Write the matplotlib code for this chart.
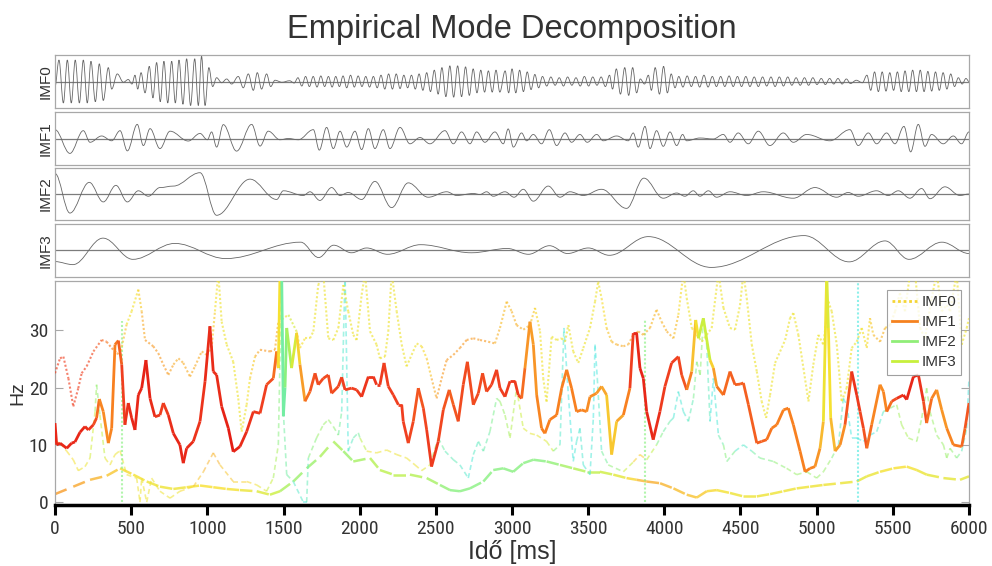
import numpy as np
import matplotlib
matplotlib.use("Agg")
import matplotlib.pyplot as plt
from matplotlib import font_manager
from matplotlib.collections import LineCollection
from matplotlib.colors import LinearSegmentedColormap
from matplotlib.lines import Line2D
from matplotlib.patches import PathPatch
from matplotlib.path import Path

# --- IMF signals: extrema (time ms, value as fraction of half panel height) ---
IMF0_EXTREMA = [
    (0, -0.2), (26, 0.85), (55, -0.85), (81, 0.85), (107, -0.85), (133, 0.85), (160, -0.85),
    (186, 0.85), (212, -0.85), (236, 0.8), (265, -0.8), (291, 0.7), (317, -0.75), (350, 0.55),
    (372, -0.3), (409, 0.3), (449, -0.03), (481, 0.08), (505, -0.1), (525, 0.25), (543, -0.3),
    (565, 0.35), (591, -0.45), (619, 0.6), (643, -0.65), (667, 0.75), (691, -0.8), (715, 0.8),
    (740, -0.85), (766, 0.8), (790, -0.85), (814, 0.85), (840, -0.9), (864, 0.9), (890, -0.95),
    (917, 0.9), (941, -0.95), (962, 1.0), (985, -0.95), (1010, 0.55), (1035, -0.2), (1061, 0.15),
    (1094, -0.05), (1127, 0.1), (1160, -0.1), (1203, 0.2), (1236, -0.25), (1269, 0.3), (1302, -0.35),
    (1328, 0.35), (1356, -0.3), (1389, 0.3), (1416, -0.2), (1444, 0.05), (1490, -0.03), (1540, 0.03),
    (1570, -0.06), (1595, 0.15), (1620, -0.18), (1645, 0.2), (1670, -0.2), (1695, 0.2), (1720, -0.22),
    (1745, 0.22), (1770, -0.2), (1795, 0.2), (1819, -0.22), (1843, 0.2), (1867, -0.2), (1891, 0.22),
    (1915, -0.25), (1940, 0.25), (1965, -0.22), (1990, 0.22), (2015, -0.2), (2040, 0.2), (2065, -0.22),
    (2090, 0.2), (2115, -0.25), (2140, 0.25), (2165, -0.3), (2190, 0.3), (2215, -0.3), (2240, 0.3),
    (2265, -0.28), (2290, 0.25), (2315, -0.25), (2340, 0.25), (2365, -0.3), (2390, 0.3), (2415, -0.35),
    (2440, 0.35), (2465, -0.4), (2490, 0.45), (2515, -0.5), (2540, 0.55), (2566, -0.6), (2592, 0.62),
    (2617, -0.62), (2643, 0.62), (2669, -0.6), (2695, 0.58), (2720, -0.55), (2745, 0.5), (2770, -0.45),
    (2795, 0.45), (2820, -0.42), (2845, 0.42), (2870, -0.42), (2895, 0.45), (2920, -0.42), (2955, 0.42),
    (2978, -0.45), (3000, 0.5), (3025, -0.45), (3050, 0.45), (3075, -0.4), (3100, 0.38), (3125, -0.32),
    (3150, 0.28), (3175, -0.25), (3200, 0.2), (3228, -0.18), (3255, 0.18), (3283, -0.15), (3310, 0.15),
    (3338, -0.18), (3365, 0.18), (3393, -0.15), (3420, 0.15), (3448, -0.18), (3475, 0.2), (3503, -0.18),
    (3530, 0.18), (3558, -0.15), (3585, 0.18), (3613, -0.2), (3640, 0.25), (3660, -0.3), (3685, 0.5),
    (3712, -0.5), (3740, 0.55), (3766, -0.55), (3792, 0.55), (3818, -0.45), (3842, 0.1), (3870, -0.1),
    (3895, 0.25), (3915, -0.35), (3940, 0.55), (3968, -0.5), (3995, 0.6), (4020, -0.45), (4045, 0.3),
    (4070, -0.25), (4095, 0.2), (4122, -0.22), (4150, 0.22), (4177, -0.2), (4205, 0.2), (4232, -0.22),
    (4260, 0.25), (4287, -0.22), (4315, 0.2), (4342, -0.2), (4370, 0.2), (4397, -0.2), (4425, 0.22),
    (4452, -0.2), (4480, 0.2), (4507, -0.2), (4535, 0.2), (4562, -0.2), (4590, 0.18), (4617, -0.2),
    (4645, 0.18), (4672, -0.18), (4700, 0.18), (4727, -0.2), (4755, 0.18), (4782, -0.18), (4810, 0.18),
    (4837, -0.15), (4865, 0.15), (4892, -0.15), (4920, 0.15), (4947, -0.15), (4975, 0.15), (5002, -0.12),
    (5030, 0.12), (5057, -0.12), (5085, 0.12), (5112, -0.1), (5140, 0.12), (5167, -0.1), (5195, 0.1),
    (5222, -0.08), (5260, 0.05), (5300, -0.05), (5330, 0.25), (5355, -0.35), (5380, 0.38), (5405, -0.4),
    (5430, 0.38), (5455, -0.38), (5480, 0.35), (5505, -0.35), (5530, 0.38), (5555, -0.4), (5580, 0.42),
    (5605, -0.4), (5630, 0.45), (5655, -0.4), (5680, 0.45), (5705, -0.4), (5730, 0.4), (5755, -0.38),
    (5780, 0.38), (5805, -0.35), (5830, 0.35), (5855, -0.3), (5880, 0.3), (5905, -0.2), (5930, 0.15),
    (5955, -0.1), (5980, 0.12), (6000, 0.0),
]
IMF1_EXTREMA = [
    (0, 0.35), (98, -0.59), (186, 0.31), (230, -0.15), (306, 0.1), (372, -0.09), (427, 0.31),
    (475, -0.49), (540, 0.56), (580, -0.28), (624, 0.39), (689, -0.4), (755, 0.29), (875, -0.1),
    (952, 0.2), (1000, -0.05), (1028, 0.26), (1061, -0.34), (1105, 0.55), (1192, -0.5), (1291, 0.56),
    (1346, -0.3), (1400, 0.29), (1477, -0.05), (1532, 0.0), (1597, -0.05), (1696, 0.35), (1735, -0.46),
    (1783, 0.44), (1827, -0.4), (1871, 0.29), (1915, -0.34), (1969, 0.29), (2013, -0.44), (2057, 0.39),
    (2100, -0.4), (2155, 0.35), (2199, -0.4), (2265, 0.44), (2330, -0.21), (2396, 0.04), (2461, -0.21),
    (2560, 0.31), (2615, -0.21), (2669, 0.26), (2724, -0.21), (2768, 0.26), (2822, -0.15), (2888, 0.26),
    (2943, -0.21), (2975, 0.38), (3009, -0.34), (3063, 0.22), (3096, -0.09), (3140, 0.16), (3194, -0.21),
    (3245, 0.35), (3293, -0.28), (3348, 0.22), (3391, -0.15), (3446, 0.16), (3494, -0.15), (3556, 0.16),
    (3599, -0.09), (3687, 0.1), (3763, -0.09), (3796, 0.22), (3829, -0.34), (3873, 0.48), (3906, -0.4),
    (3949, 0.31), (3993, -0.31), (4037, 0.26), (4081, -0.28), (4120, 0.16), (4146, -0.09), (4234, 0.02),
    (4321, -0.02), (4387, 0.16), (4431, -0.15), (4485, 0.22), (4551, -0.21), (4617, 0.29), (4693, -0.28),
    (4781, 0.22), (4847, -0.15), (4934, 0.16), (5087, -0.09), (5218, 0.35), (5273, -0.28), (5339, 0.22),
    (5394, -0.21), (5459, 0.22), (5514, -0.21), (5573, 0.48), (5617, -0.53), (5667, 0.56), (5711, -0.31),
    (5754, 0.16), (5831, -0.21), (5897, 0.1), (5951, -0.21), (6000, 0.26),
]
IMF2_EXTREMA = [
    (0, 0.83), (98, -0.77), (225, 0.47), (317, -0.32), (400, 0.35), (475, -0.32), (547, 0.13),
    (613, -0.09), (689, 0.26), (777, 0.32), (952, 0.86), (1061, -0.86), (1280, 0.6), (1455, -0.22),
    (1499, 0.13), (1630, -0.06), (1674, 0.09), (1739, -0.26), (1816, 0.26), (1871, -0.06), (1925, 0.06),
    (2013, -0.22), (2100, 0.51), (2210, -0.55), (2319, 0.45), (2450, -0.13), (2571, 0.09), (2637, -0.06),
    (2746, 0.02), (2790, -0.02), (2833, 0.09), (2877, -0.09), (2954, 0.09), (3014, -0.13), (3074, 0.19),
    (3140, -0.29), (3238, 0.32), (3315, -0.13), (3380, 0.09), (3468, -0.06), (3588, 0.19), (3752, -0.58),
    (3866, 0.64), (3993, -0.17), (4081, 0.04), (4135, -0.09), (4190, 0.13), (4234, -0.09), (4289, 0.13),
    (4343, -0.13), (4431, 0.09), (4540, -0.06), (4649, 0.09), (4846, -0.17), (4989, 0.26), (5131, -0.13),
    (5207, 0.06), (5273, -0.09), (5393, 0.13), (5470, -0.06), (5536, 0.13), (5612, -0.17), (5689, 0.22),
    (5744, -0.19), (5842, 0.29), (5940, -0.06), (6000, 0.0),
]
IMF3_EXTREMA = [
    (0, -0.44), (118, -0.56), (315, 0.49), (511, -0.35), (787, 0.28), (1121, -0.32), (1613, 0.33),
    (1731, -0.28), (1829, 0.21), (1947, -0.09), (2046, 0.1), (2183, -0.15), (2400, 0.23), (2734, -0.09),
    (2970, 0.08), (3108, -0.15), (3246, 0.19), (3364, -0.12), (3501, 0.1), (3639, -0.19), (3895, 0.55),
    (4308, -0.67), (4918, 0.59), (5213, -0.45), (5449, 0.38), (5606, -0.35), (5822, 0.33), (6000, -0.12),
]
IMF_LABELS = ["IMF0", "IMF1", "IMF2", "IMF3"]

# --- instantaneous frequency: (time ms, Hz, amplitude colour level 0..1) ---
IF0_POINTS = [
    (0, 22.5, .9), (33, 25.1, .9), (55, 25.4, .9), (88, 21.6, .9), (120, 16.7, .9), (153, 19.9, .9),
    (175, 22.5, .9), (208, 23.7, .9), (252, 26.3, .88), (306, 28.3, .85), (339, 28.0, .82),
    (372, 26.9, .8), (405, 26.0, .78), (427, 25.7, .75), (470, 31.0, .62), (503, 33.3, .6),
    (547, 37.1, .62), (569, 33.3, .7), (591, 28.3, .75), (645, 27.2, .75), (678, 26.0, .75),
    (711, 24.0, .75), (744, 22.2, .75), (777, 24.0, .72), (810, 25.1, .72), (842, 24.3, .72),
    (886, 21.9, .72), (919, 23.7, .72), (963, 26.3, .72), (996, 25.7, .72), (1028, 26.9, .7),
    (1050, 33.3, .62), (1072, 40.0, .6), (1094, 31.5, .6), (1127, 27.5, .6), (1170, 24.5, .6),
    (1203, 18.1, .6), (1225, 12.3, .6), (1258, 17.0, .6), (1280, 21.6, .62), (1313, 25.4, .7),
    (1346, 26.6, .75), (1411, 26.3, .75), (1444, 26.6, .75), (1466, 31.5, .7), (1532, 32.7, .5),
    (1586, 29.8, .6), (1608, 26.9, .62), (1641, 28.6, .62), (1674, 28.6, .6), (1696, 29.8, .6),
    (1728, 37.9, .6), (1761, 40.0, .6), (1794, 28.6, .6), (1827, 28.3, .6), (1860, 30.4, .6),
    (1893, 37.9, .6), (1925, 33.3, .6), (1958, 29.2, .6), (1980, 28.3, .6), (2013, 36.2, .6),
    (2035, 40.0, .6), (2068, 29.8, .6), (2111, 27.5, .6), (2133, 25.1, .6), (2166, 25.4, .6),
    (2188, 29.8, .6), (2210, 40.0, .6), (2243, 33.3, .6), (2276, 27.5, .6), (2308, 23.7, .6),
    (2341, 25.7, .6), (2374, 27.7, .6), (2407, 27.2, .62), (2440, 25.1, .65), (2472, 21.6, .7),
    (2505, 18.1, .75), (2538, 21.6, .75), (2571, 24.8, .75), (2615, 25.7, .75), (2658, 26.9, .75),
    (2702, 28.3, .75), (2746, 28.6, .75), (2790, 28.3, .75), (2844, 28.0, .75), (2888, 27.7, .72),
    (2921, 30.4, .7), (2965, 35.0, .68), (2998, 33.3, .7), (3030, 30.9, .72), (3074, 30.1, .72),
    (3118, 30.9, .7), (3151, 33.9, .65), (3184, 29.8, .62), (3205, 21.6, .6), (3227, 17.5, .6),
    (3260, 28.9, .6), (3293, 28.3, .6), (3326, 28.6, .6), (3348, 28.0, .6), (3370, 30.9, .6),
    (3402, 26.3, .6), (3435, 24.3, .6), (3468, 26.9, .6), (3512, 30.4, .6), (3545, 35.0, .6),
    (3566, 38.5, .6), (3588, 35.6, .6), (3621, 30.4, .65), (3654, 28.0, .7), (3687, 27.5, .72),
    (3731, 27.2, .72), (3763, 27.5, .72), (3796, 29.2, .72), (3829, 29.8, .72), (3862, 29.2, .72),
    (3906, 30.4, .7), (3949, 33.6, .7), (3982, 31.5, .7), (4016, 29.8, .72), (4060, 28.6, .72),
    (4092, 32.7, .65), (4125, 40.0, .6), (4147, 35.6, .6), (4180, 30.4, .6), (4213, 29.2, .6),
    (4246, 28.0, .6), (4278, 29.2, .6), (4311, 30.4, .6), (4355, 40.0, .6), (4388, 33.9, .6),
    (4431, 30.4, .6), (4464, 30.1, .6), (4497, 34.4, .6), (4519, 40.0, .6), (4541, 35.6, .6),
    (4574, 27.5, .6), (4607, 22.8, .6), (4639, 17.6, .6), (4668, 14.7, .6), (4694, 18.7, .6),
    (4727, 24.3, .6), (4760, 26.3, .6), (4793, 28.3, .6), (4825, 32.1, .6), (4847, 33.0, .6),
    (4880, 29.2, .6), (4913, 23.4, .6), (4946, 17.6, .6), (4978, 24.0, .6), (5011, 29.2, .6),
    (5044, 27.5, .6), (5077, 35.0, .6), (5099, 33.3, .6), (5132, 27.5, .6), (5164, 17.6, .6),
    (5197, 19.9, .6), (5230, 26.9, .6), (5263, 28.0, .6), (5296, 30.4, .6), (5329, 26.9, .62),
    (5350, 32.1, .65), (5372, 29.2, .68), (5416, 28.0, .72), (5449, 30.4, .7), (5482, 30.9, .65),
    (5515, 33.3, .6), (5547, 36.5, .6), (5580, 33.3, .6), (5613, 40.0, .6), (5646, 40.0, .6),
    (5679, 30.4, .6), (5711, 28.6, .6), (5755, 35.6, .6), (5788, 40.0, .6), (5821, 33.3, .6),
    (5854, 34.4, .6), (5876, 33.3, .6), (5919, 40.0, .6), (5952, 27.5, .6), (5985, 30.4, .6),
    (6000, 32.1, .6),
]
IF1_POINTS = [
    (0, 13.8, .95), (11, 10.0, .95), (33, 10.3, .95), (77, 9.4, .95), (109, 10.3, .95), (131, 10.5, .95),
    (164, 12.2, .95), (197, 13.2, .95), (219, 12.6, .93), (252, 13.5, .9), (273, 14.7, .85),
    (291, 18.0, .8), (317, 15.8, .78), (350, 10.3, .78), (372, 12.9, .8), (394, 27.5, .8),
    (416, 28.2, .82), (438, 24.0, .88), (459, 13.5, .92), (481, 17.3, .93), (503, 14.7, .95),
    (525, 12.6, .95), (547, 18.7, .95), (569, 19.9, .95), (597, 24.8, .97), (624, 18.1, .95),
    (656, 14.9, .93), (689, 15.2, .9), (711, 17.3, .9), (744, 15.2, .92), (777, 12.0, .95),
    (820, 10.0, .95), (842, 6.8, .95), (864, 9.4, .95), (908, 10.6, .93), (952, 14.1, .92),
    (985, 21.1, .93), (1017, 30.7, .95), (1039, 22.8, .93), (1061, 22.2, .93), (1094, 16.7, .95),
    (1138, 12.9, .97), (1170, 8.8, .97), (1214, 9.7, .95), (1258, 12.3, .93), (1302, 15.8, .92),
    (1346, 15.5, .9), (1389, 20.5, .9), (1433, 21.6, .85), (1455, 26.3, .8), (1466, 23.4, .78),
    (1477, 40.0, .45), (1488, 40.0, .4), (1499, 15.0, .35), (1510, 20.0, .4), (1521, 30.4, .45),
    (1553, 23.4, .5), (1586, 29.5, .6), (1608, 24.0, .7), (1641, 17.6, .8), (1674, 19.3, .85),
    (1707, 22.5, .88), (1728, 20.5, .88), (1761, 21.6, .88), (1794, 22.2, .88), (1816, 19.0, .88),
    (1860, 20.2, .88), (1882, 21.8, .9), (1904, 19.6, .9), (1947, 19.9, .9), (1980, 19.6, .9),
    (2013, 18.4, .92), (2057, 21.9, .92), (2090, 21.9, .92), (2111, 20.5, .92), (2133, 20.5, .92),
    (2160, 24.3, .9), (2188, 20.2, .9), (2221, 18.7, .9), (2254, 17.0, .9), (2276, 17.0, .9),
    (2286, 14.1, .9), (2319, 10.3, .9), (2352, 14.1, .88), (2385, 19.9, .85), (2418, 16.4, .88),
    (2440, 12.6, .9), (2472, 6.2, .92), (2516, 10.6, .9), (2549, 16.1, .88), (2588, 19.6, .85),
    (2615, 17.0, .85), (2647, 14.1, .88), (2680, 20.5, .88), (2707, 24.5, .88), (2746, 17.0, .88),
    (2779, 19.0, .88), (2807, 22.5, .88), (2833, 19.3, .88), (2866, 20.5, .9), (2899, 23.1, .9),
    (2921, 19.9, .9), (2954, 18.4, .9), (2987, 21.1, .92), (3019, 21.1, .92), (3041, 18.7, .9),
    (3063, 18.1, .88), (3085, 23.4, .78), (3118, 31.5, .75), (3140, 27.5, .75), (3162, 18.7, .78),
    (3194, 12.9, .8), (3216, 12.0, .8), (3249, 14.4, .8), (3293, 15.2, .8), (3326, 19.9, .8),
    (3359, 23.1, .8), (3391, 19.9, .8), (3424, 15.8, .8), (3457, 16.1, .8), (3490, 15.8, .78),
    (3512, 18.4, .78), (3555, 19.0, .76), (3588, 20.2, .75), (3621, 18.7, .72), (3654, 8.3, .62),
    (3687, 14.1, .72), (3731, 15.2, .75), (3774, 19.9, .85), (3796, 29.5, .95), (3818, 29.5, .95),
    (3840, 23.4, .95), (3862, 21.6, .95), (3884, 15.8, .95), (3927, 10.9, .95), (3971, 15.8, .92),
    (4004, 20.2, .9), (4048, 24.3, .9), (4092, 25.4, .9), (4114, 22.2, .88), (4147, 19.6, .85),
    (4180, 22.8, .75), (4206, 31.8, .62), (4224, 28.6, .6), (4256, 32.1, .45), (4300, 24.8, .6),
    (4322, 23.4, .7), (4344, 20.2, .8), (4388, 18.7, .82), (4431, 22.8, .85), (4464, 20.5, .85),
    (4497, 20.6, .85), (4519, 20.8, .85), (4552, 17.0, .85), (4607, 10.3, .85), (4639, 10.6, .85),
    (4672, 10.9, .83), (4705, 12.9, .8), (4738, 13.5, .8), (4782, 16.1, .8), (4814, 16.4, .8),
    (4847, 13.5, .8), (4891, 8.9, .8), (4924, 5.3, .8), (4957, 5.9, .8), (4989, 6.2, .78),
    (5022, 9.4, .75), (5044, 14.1, .65), (5066, 40.0, .55), (5077, 30.4, .58), (5092, 14.7, .65),
    (5121, 8.9, .75), (5154, 10.0, .75), (5186, 13.5, .8), (5230, 22.8, .93), (5263, 18.7, .92),
    (5285, 15.8, .9), (5307, 12.9, .88), (5329, 9.4, .85), (5361, 13.5, .8), (5416, 20.5, .78),
    (5438, 19.3, .78), (5460, 15.8, .8), (5493, 17.6, .85), (5525, 18.1, .9), (5569, 18.7, .95),
    (5591, 17.9, .95), (5635, 21.9, .95), (5668, 22.2, .95), (5701, 17.6, .9), (5722, 13.8, .85),
    (5755, 18.1, .8), (5788, 19.6, .78), (5821, 16.1, .75), (5854, 12.9, .78), (5897, 10.0, .8),
    (5952, 9.7, .82), (5974, 12.9, .85), (6000, 17.3, .88),
]
IF2_POINTS = [
    (0, 10.6, .62), (33, 10.3, .62), (77, 8.9, .62), (120, 7.4, .62), (153, 5.5, .6), (197, 6.2, .6),
    (230, 7.7, .58), (263, 15.8, .5), (273, 20.5, .42), (295, 15.2, .45), (328, 7.7, .58),
    (361, 6.5, .6), (394, 8.3, .6), (427, 9.0, .58), (470, 4.8, .6), (536, 4.2, .6), (558, 0.0, .6),
    (569, 4.2, .6), (602, 0.0, .6), (634, 4.2, .6), (689, 1.9, .6), (755, 0.7, .6), (820, 1.9, .6),
    (908, 2.7, .65), (974, 5.3, .7), (1039, 8.6, .72), (1083, 6.5, .7), (1170, 3.6, .65),
    (1258, 3.6, .65), (1324, 3.0, .62), (1389, 1.9, .55), (1433, 4.2, .5), (1466, 10.0, .45),
    (1488, 40.0, .4), (1499, 15.8, .35), (1521, 4.8, .4), (1564, 3.6, .35), (1630, 0.0, .3),
    (1652, 0.0, .3), (1663, 7.7, .4), (1717, 11.2, .45), (1761, 13.5, .45), (1794, 14.4, .45),
    (1827, 13.2, .45), (1860, 11.7, .42), (1882, 15.8, .35), (1904, 40.0, .3), (1925, 8.9, .32),
    (1958, 11.2, .35), (1991, 12.1, .38), (2002, 11.2, .4), (2046, 8.9, .6), (2111, 8.6, .6),
    (2177, 9.1, .6), (2243, 8.3, .6), (2308, 7.7, .6), (2363, 6.5, .6), (2407, 5.5, .6),
    (2461, 6.5, .55), (2516, 11.2, .4), (2560, 8.9, .35), (2615, 7.4, .35), (2658, 6.5, .35),
    (2713, 4.2, .3), (2746, 8.3, .32), (2779, 10.6, .35), (2812, 8.9, .35), (2855, 12.3, .38),
    (2899, 18.1, .42), (2921, 17.6, .45), (2954, 15.2, .45), (2987, 11.2, .48), (3030, 19.9, .5),
    (3074, 12.9, .55), (3118, 12.0, .58), (3162, 11.7, .58), (3227, 10.6, .58), (3271, 8.9, .5),
    (3315, 10.0, .35), (3341, 30.4, .3), (3370, 18.7, .3), (3402, 7.1, .3), (3424, 10.6, .32),
    (3446, 12.9, .32), (3468, 6.5, .32), (3512, 4.8, .32), (3534, 14.7, .3), (3545, 27.5, .3),
    (3560, 21.6, .3), (3588, 8.9, .35), (3632, 6.5, .42), (3731, 5.3, .45), (3796, 7.0, .6),
    (3840, 8.3, .72), (3884, 7.4, .6), (3949, 10.0, .42), (3993, 12.3, .4), (4037, 14.1, .35),
    (4060, 14.7, .32), (4092, 19.3, .3), (4125, 15.8, .32), (4158, 14.1, .32), (4191, 18.1, .38),
    (4213, 24.5, .42), (4235, 22.2, .45), (4256, 32.1, .42), (4278, 27.5, .38), (4300, 14.1, .3),
    (4322, 21.6, .3), (4355, 11.7, .32), (4388, 10.0, .4), (4410, 7.1, .45), (4464, 8.9, .35),
    (4519, 10.0, .3), (4574, 8.9, .35), (4628, 7.7, .4), (4716, 7.1, .42), (4803, 5.9, .45),
    (4869, 4.8, .45), (4935, 5.3, .45), (5000, 4.2, .45), (5044, 5.3, .45), (5099, 7.7, .45),
    (5143, 10.0, .38), (5175, 18.1, .3), (5197, 17.0, .3), (5230, 11.2, .3), (5263, 11.2, .3),
    (5307, 10.6, .3), (5350, 11.7, .3), (5394, 12.3, .3), (5438, 15.8, .35), (5482, 16.4, .4),
    (5525, 17.0, .45), (5558, 13.5, .48), (5602, 11.2, .48), (5657, 10.6, .45), (5690, 14.7, .45),
    (5722, 19.9, .45), (5744, 15.8, .45), (5788, 11.7, .45), (5832, 10.0, .45), (5854, 7.7, .45),
    (5876, 9.4, .45), (5919, 7.7, .42), (5952, 8.9, .38), (5985, 12.9, .3), (6000, 21.6, .3),
]
IF3_POINTS = [
    (0, 1.4, .75), (120, 2.7, .75), (230, 3.9, .72), (339, 4.6, .7), (427, 5.9, .65), (514, 4.8, .62),
    (602, 3.6, .6), (689, 2.7, .6), (777, 2.3, .6), (864, 2.6, .6), (952, 2.9, .62), (1039, 2.6, .62),
    (1127, 2.3, .62), (1214, 2.1, .6), (1324, 1.9, .58), (1411, 1.3, .55), (1477, 1.9, .5),
    (1564, 3.6, .45), (1652, 5.9, .45), (1739, 7.9, .45), (1827, 10.6, .5), (1893, 8.9, .45),
    (1958, 7.1, .45), (2068, 7.7, .48), (2133, 5.6, .5), (2221, 4.8, .5), (2330, 4.8, .5),
    (2440, 4.2, .48), (2527, 3.0, .45), (2593, 2.1, .42), (2658, 1.9, .42), (2724, 2.4, .42),
    (2812, 3.6, .42), (2877, 5.6, .42), (2943, 5.9, .42), (3008, 5.3, .42), (3074, 6.8, .42),
    (3140, 7.4, .42), (3227, 7.1, .42), (3315, 6.5, .45), (3402, 5.9, .48), (3490, 5.3, .5),
    (3577, 5.3, .52), (3665, 4.8, .55), (3752, 4.2, .6), (3818, 3.9, .68), (3884, 3.6, .72),
    (3972, 3.3, .72), (4060, 2.4, .7), (4147, 1.3, .68), (4213, 0.8, .68), (4278, 1.9, .65),
    (4344, 2.1, .62), (4431, 1.6, .6), (4519, 1.0, .6), (4607, 1.0, .6), (4694, 1.4, .6),
    (4782, 1.9, .6), (4869, 2.4, .6), (4957, 2.7, .6), (5044, 3.0, .6), (5154, 3.3, .6),
    (5263, 3.6, .58), (5329, 4.5, .58), (5416, 5.3, .6), (5504, 5.9, .62), (5591, 6.2, .62),
    (5657, 5.6, .6), (5722, 4.8, .58), (5832, 4.2, .58), (5941, 3.9, .58), (6000, 4.5, .58),
]
# vertical jumps of the frequency estimate (dotted, from 0 Hz up)
SPIKE_T = [440, 3875, 5270]
SPIKE_TOP = [31.7, 32.0, 40.0]
SPIKE_LEVEL = [0.42, 0.42, 0.3]

X_TICKS = list(range(0, 6001, 500))
Y_TICKS = [0, 10, 20, 30]

CMAP = LinearSegmentedColormap.from_list(
    "amp",
    [(0.0, "#30d8f8"), (0.3, "#50e8e0"), (0.42, "#88f080"), (0.52, "#c8f040"),
     (0.62, "#f8e030"), (0.72, "#f8b030"), (0.8, "#f88020"), (0.9, "#f04020"), (1.0, "#e01010")],
)
LEGEND_COLORS = ["#f5d535", "#f5821f", "#90ee78", "#c8f03c"]
LEGEND_STYLES = [(0, (1, 1)), "-", "-", "-"]

FRAME = "#a8a8a8"
TEXT = "#333333"


def narrow_font():
    # condensed face for tick labels, if one is installed
    wanted = ["Liberation Sans Narrow", "Roboto Condensed", "Open Sans Condensed",
              "Noto Sans", "Roboto", "DejaVu Sans", "Open Sans"]
    for name in wanted:
        for f in font_manager.fontManager.ttflist:
            if f.name != name or f.style != "normal" or f.weight not in (400, "normal", "regular"):
                continue
            if "Narrow" in name or "Condensed" in name or f.stretch in ("condensed", "semi-condensed"):
                return font_manager.FontProperties(fname=f.fname)
    return None


def imf_path(extrema):
    pts = np.asarray(extrema, dtype=float)
    verts = [tuple(pts[0])]
    codes = [Path.MOVETO]
    for (t0, v0), (t1, v1) in zip(pts[:-1], pts[1:]):
        k = 0.3642 * (t1 - t0)
        verts += [(t0 + k, v0), (t1 - k, v1), (t1, v1)]
        codes += [Path.CURVE4] * 3
    return Path(verts, codes)


def colored_line(ax, points, style, lw, alpha, z):
    arr = np.asarray(points, dtype=float)
    xy = arr[:, :2]
    segs = np.stack([xy[:-1], xy[1:]], axis=1)
    lev = 0.5 * (arr[:-1, 2] + arr[1:, 2])
    lc = LineCollection(segs, colors=CMAP(lev), linewidths=lw, linestyles=style,
                        alpha=alpha, zorder=z, capstyle="butt")
    ax.add_collection(lc)


def main():
    plt.rcParams["font.family"] = ["Liberation Sans", "DejaVu Sans"]
    tick_fp = narrow_font()

    fig = plt.figure(figsize=(9.92, 5.66), dpi=100)
    left, width = 55 / 992, 914 / 992

    fig.text(0.516, 0.947, "Empirical Mode Decomposition", ha="center", va="center",
             fontsize=23.5, color=TEXT)

    panel_px = [(55, 108), (112, 165), (168, 220), (224, 277)]
    extrema = [IMF0_EXTREMA, IMF1_EXTREMA, IMF2_EXTREMA, IMF3_EXTREMA]
    for (top, bot), ext, lab in zip(panel_px, extrema, IMF_LABELS):
        ax = fig.add_axes([left, 1 - bot / 566, width, (bot - top) / 566])
        ax.add_patch(PathPatch(imf_path(ext), fill=False, edgecolor="#666666", lw=0.6))
        ax.axhline(0, color="#7c7c7c", lw=0.9, zorder=0)
        ax.set_xlim(0, 6000)
        ax.set_ylim(-1.05, 1.05)
        ax.set_xticks([])
        ax.set_yticks([])
        for s in ax.spines.values():
            s.set_color(FRAME)
            s.set_linewidth(0.9)
        ax.set_ylabel(lab, fontsize=11, labelpad=2, color=TEXT)

    ax = fig.add_axes([left, 1 - 505 / 566, width, 224 / 566])
    colored_line(ax, IF3_POINTS, (0, (5, 4)), 1.8, 0.8, 2)
    colored_line(ax, IF2_POINTS, (0, (3, 2)), 1.2, 0.55, 2)
    colored_line(ax, IF0_POINTS, (0, (1, 1)), 1.5, 0.65, 3)
    colored_line(ax, IF1_POINTS, "-", 2.0, 1.0, 4)
    for t, top, lev in zip(SPIKE_T, SPIKE_TOP, SPIKE_LEVEL):
        ax.plot([t, t], [0, top], color=CMAP(lev), lw=1.5, ls=(0, (1, 1)), alpha=0.65, zorder=2)

    ax.set_xlim(0, 6000)
    ax.set_ylim(-0.5, 38.6)
    ax.set_xticks(X_TICKS)
    ax.set_yticks(Y_TICKS)
    tick_size = 14 if tick_fp is not None else 12
    ax.tick_params(axis="x", direction="out", length=7, width=2.2, color="black",
                   labelsize=tick_size, pad=4, labelcolor=TEXT)
    ax.tick_params(axis="y", direction="in", length=6, width=0.8, color=FRAME,
                   labelsize=tick_size, pad=5, right=True, labelcolor=TEXT)
    if tick_fp is not None:
        for lbl in ax.get_xticklabels() + ax.get_yticklabels():
            lbl.set_fontproperties(tick_fp)
            lbl.set_fontsize(tick_size)
    for name in ("left", "top", "right"):
        ax.spines[name].set_color(FRAME)
        ax.spines[name].set_linewidth(0.9)
    ax.spines["bottom"].set_color("black")
    ax.spines["bottom"].set_linewidth(2.5)
    ax.set_xlabel("Idő [ms]", fontsize=18, color=TEXT, labelpad=1)
    ax.set_ylabel("Hz", fontsize=14, color=TEXT, labelpad=2)

    handles = [Line2D([], [], color=c, ls=ls, lw=2.0) for c, ls in zip(LEGEND_COLORS, LEGEND_STYLES)]
    leg = ax.legend(handles, IMF_LABELS, loc="upper right", bbox_to_anchor=(0.995, 0.975),
                    fontsize=11, frameon=True, fancybox=False, edgecolor="#888888",
                    handlelength=1.6, handletextpad=0.3, borderpad=0.35, labelspacing=0.4,
                    borderaxespad=0.2)
    leg.get_frame().set_linewidth(0.8)
    for txt in leg.get_texts():
        txt.set_color(TEXT)

    fig.savefig("out.png", dpi=100)
    plt.close(fig)


if __name__ == "__main__":
    main()
